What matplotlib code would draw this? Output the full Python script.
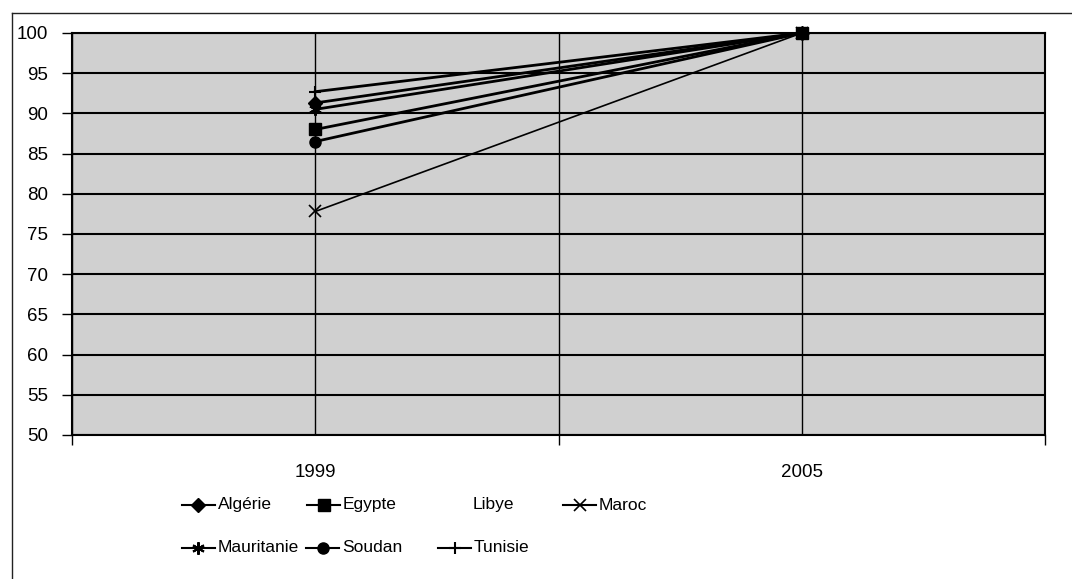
import matplotlib
matplotlib.use("Agg")
import matplotlib.pyplot as plt
from matplotlib.lines import Line2D

plt.rcParams["font.family"] = ["Liberation Sans", "DejaVu Sans"]

# Index values (2005 = 100)
years = ["1999", "2005"]
countries = ["Algérie", "Egypte", "Libye", "Maroc", "Mauritanie", "Soudan", "Tunisie"]
algerie = [91.3, 100]
egypte = [88.0, 100]
libye = [None, None]
maroc = [77.8, 100]
mauritanie = [90.5, 100]
soudan = [86.5, 100]
tunisie = [92.7, 100]
y_ticks = [50, 55, 60, 65, 70, 75, 80, 85, 90, 95, 100]

series = [algerie, egypte, libye, maroc, mauritanie, soudan, tunisie]
styles = {
    "Algérie":    dict(marker="D", ms=7, lw=2.0, mew=1),
    "Egypte":     dict(marker="s", ms=8, lw=2.0, mew=1),
    "Libye":      dict(marker="None", ms=0, lw=0, mew=0),
    "Maroc":      dict(marker="x", ms=8, lw=1.2, mew=1.2),
    "Mauritanie": dict(marker=(6, 2, 0), ms=9, lw=2.0, mew=1.5),
    "Soudan":     dict(marker="o", ms=8, lw=2.0, mew=1),
    "Tunisie":    dict(marker="+", ms=9, lw=2.0, mew=1.5),
}
zorders = {"Egypte": 6}
FS = 13.5

W, H = 1072, 579
fig = plt.figure(figsize=(W / 100, H / 100), dpi=100)
fig.patch.set_facecolor("white")


def fx(px):
    return px / W


def fy(py):
    return 1 - py / H


ax = fig.add_axes([fx(72), fy(435), fx(1045) - fx(72), fy(33) - fy(435)])
ax.set_facecolor("#d0d0d0")

xpos = [0.5, 1.5]
for name, vals in zip(countries, series):
    st = styles[name]
    pts = [(x, v) for x, v in zip(xpos, vals) if v is not None]
    if not pts:
        continue
    xs, ys = zip(*pts)
    ax.plot(xs, ys, color="black", lw=st["lw"], marker=st["marker"],
            ms=st["ms"], mew=st["mew"], mfc="black", mec="black",
            zorder=zorders.get(name, 4), clip_on=False)

ax.set_xlim(0, 2)
ax.set_ylim(50, 100)
ax.set_yticks(y_ticks)
ax.set_yticklabels([str(t) for t in y_ticks], fontsize=FS)
ax.set_xticks([0, 1, 2])
ax.set_xticklabels([])
ax.set_xticks(xpos, minor=True)
ax.set_xticklabels(years, minor=True, fontsize=FS)

ax.tick_params(axis="y", direction="out", length=7, width=1, pad=10, colors="black")
ax.tick_params(axis="x", which="major", direction="out", length=7, width=1)
ax.tick_params(axis="x", which="minor", length=0, pad=21)

ax.grid(axis="y", color="black", lw=1.5, zorder=1)
ax.grid(axis="x", which="both", color="black", lw=1.0, zorder=1)
ax.set_axisbelow(True)

for s in ax.spines.values():
    s.set_color("black")
    s.set_linewidth(1.5)

# Chart area frame (top and left edges)
fig.add_artist(Line2D([fx(12), fx(1072)], [fy(13), fy(13)], color="#222222", lw=1.0,
                      transform=fig.transFigure))
fig.add_artist(Line2D([fx(12), fx(12)], [fy(13), fy(579)], color="#222222", lw=1.0,
                      transform=fig.transFigure))

# Legend entries laid out in two rows
legend_slots = {
    "Algérie": (182, 505), "Egypte": (307, 505), "Libye": (437, 505), "Maroc": (563, 505),
    "Mauritanie": (182, 548), "Soudan": (306, 548), "Tunisie": (438, 548),
}
for name in countries:
    st = styles[name]
    x0, yrow = legend_slots[name]
    x1 = x0 + 33
    if st["lw"] > 0:
        fig.add_artist(Line2D([fx(x0), fx((x0 + x1) / 2), fx(x1)], [fy(yrow)] * 3,
                              color="black", lw=1.5, marker=st["marker"], markevery=[1],
                              ms=st["ms"], mew=st["mew"], mfc="black", mec="black",
                              transform=fig.transFigure))
    fig.text(fx(x1 + 3), fy(yrow), name, fontsize=12.5, va="center", ha="left")

fig.savefig("out.png", dpi=100)
